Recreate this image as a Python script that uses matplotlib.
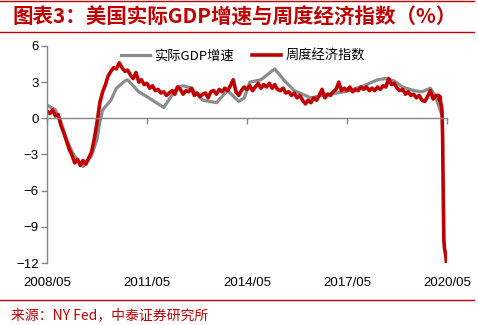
import matplotlib
matplotlib.use('Agg')
import matplotlib.pyplot as plt
from matplotlib.lines import Line2D
import pandas as pd

plt.rcParams['font.family'] = ['Liberation Sans', 'Noto Sans CJK SC', 'DejaVu Sans']
CJK = ['Noto Sans CJK SC', 'DejaVu Sans']

RED = '#C00000'
GRAY = '#8C8C8C'

title = '图表3：美国实际GDP增速与周度经济指数（%）'
source = '来源：NY Fed，中泰证券研究所'
gdp_label = '实际GDP增速'
wei_label = '周度经济指数'

gdp_dates = ['2008-05', '2008-08', '2008-10', '2008-12', '2009-02', '2009-04',
             '2009-06', '2009-09', '2009-11', '2009-12', '2010-01', '2010-04',
             '2010-06', '2010-09', '2010-10', '2011-02', '2011-05', '2011-07',
             '2011-11', '2012-04', '2012-06', '2012-09', '2013-01', '2013-06',
             '2013-10', '2014-02', '2014-04', '2014-06', '2014-10', '2015-03',
             '2015-07', '2015-10', '2016-04', '2016-10', '2017-04', '2017-07',
             '2017-11', '2018-04', '2018-07', '2018-10', '2019-01', '2019-05',
             '2019-08', '2019-11', '2020-01', '2020-03']
gdp_values = [1.1, 0.7, -0.3, -1.7, -2.8, -3.5,
              -4.0, -3.1, -1.7, -0.3, 0.7, 1.5,
              2.5, 3.1, 3.2, 2.2, 1.8, 1.5,
              0.9, 2.6, 2.7, 2.5, 1.5, 1.3,
              2.3, 1.4, 1.7, 3.0, 3.2, 4.1,
              3.0, 2.3, 1.7, 2.0, 2.2, 2.4,
              2.7, 3.2, 3.3, 3.1, 2.6, 2.3,
              2.2, 2.5, 1.7, 0.4]

# weekly economic index, monthly readings from 2008/05 to 2020/01
wei_monthly = [
    0.6, 0.4, 0.7, 0.2, 0.3, -0.6, -1.2, -1.9,                      # 2008
    -2.6, -3.1, -3.7, -3.4, -3.9, -3.5, -3.8, -3.3, -2.8, -1.7, -0.3, 1.3,  # to 2009/12
    2.2, 2.8, 3.5, 3.9, 4.2, 4.1, 4.6, 4.2, 3.9, 4.0, 3.6, 3.3,     # 2010
    3.8, 3.0, 3.2, 2.8, 2.9, 2.5, 2.7, 2.3, 2.4, 2.1, 2.2, 1.9,     # 2011
    2.1, 2.3, 2.0, 2.6, 2.4, 2.0, 2.3, 2.2, 2.5, 1.9, 2.1, 1.8,     # 2012
    2.0, 2.1, 1.7, 2.2, 2.3, 2.0, 2.4, 2.2, 2.5, 2.3, 2.7, 3.2,     # 2013
    2.2, 1.9, 2.3, 2.6, 2.4, 2.7, 2.3, 2.6, 2.9, 2.5, 2.8, 2.6,     # 2014
    2.9, 2.5, 2.8, 2.4, 2.3, 2.5, 2.1, 2.2, 1.9, 2.1, 1.7, 1.9,     # 2015
    1.5, 1.2, 1.5, 1.3, 1.7, 1.5, 1.9, 2.4, 1.7, 2.0, 1.9, 2.2,     # 2016
    2.4, 3.0, 2.3, 2.5, 2.3, 2.6, 2.2, 2.4, 2.3, 2.6, 2.4, 2.6,     # 2017
    2.3, 2.5, 2.3, 2.6, 2.4, 2.7, 2.6, 3.3, 2.8, 2.9, 2.5, 2.3,     # 2018
    2.4, 2.0, 2.2, 1.9, 2.0, 1.7, 1.9, 1.5, 1.4, 1.8, 2.3, 1.6,     # 2019
    1.9,                                                            # 2020/01
]
wei_weekly_dates = ['2020-02-01', '2020-02-08', '2020-02-15', '2020-02-22',
                    '2020-02-29', '2020-03-07', '2020-03-14', '2020-03-21',
                    '2020-03-28', '2020-04-04', '2020-04-11', '2020-04-18',
                    '2020-04-25']
wei_weekly = [1.9, 1.5, 1.8, 1.3, 1.1, 0.6, -1.5, -6.5,
              -10.2, -10.8, -11.1, -11.4, -12.0]

x_ticks = ['2008-05', '2011-05', '2014-05', '2017-05', '2020-05']
y_ticks = [6, 3, 0, -3, -6, -9, -12]

wei_dates = list(pd.date_range('2008-05-01', periods=len(wei_monthly), freq='MS')) + \
    list(pd.to_datetime(wei_weekly_dates))
wei_values = wei_monthly + wei_weekly

fig = plt.figure(figsize=(4.78, 3.25), dpi=100)
ax = fig.add_axes([47 / 478, 1 - 263 / 325, 400 / 478, 217 / 325])

ax.plot(pd.to_datetime(gdp_dates), gdp_values, color=GRAY, lw=2.3, label=gdp_label,
        solid_joinstyle='round')
ax.plot(wei_dates, wei_values, color=RED, lw=2.6, label=wei_label, solid_joinstyle='round')

ax.set_xlim(pd.Timestamp('2008-05-01'), pd.Timestamp('2020-05-01'))
ax.set_ylim(-12, 6)
ax.set_yticks(y_ticks)

tick_dates = pd.to_datetime(x_ticks)
ax.set_xticks(tick_dates)
ax.tick_params(axis='x', labelbottom=False, direction='out', length=4, width=1, color='#868686')
ax.tick_params(axis='y', direction='out', length=4, width=1, color='#868686',
               labelsize=9.5, pad=2)
for d in tick_dates:
    ax.text(d, -0.09, d.strftime('%Y/%m'), transform=ax.get_xaxis_transform(),
            ha='center', va='center', fontsize=9.5)

for s in ['top', 'right']:
    ax.spines[s].set_visible(False)
ax.spines['bottom'].set_position(('data', 0))
for s in ['left', 'bottom']:
    ax.spines[s].set_color('#868686')
    ax.spines[s].set_linewidth(1)

leg = ax.legend(loc='upper center', bbox_to_anchor=(0.49, 1.04), ncol=2, frameon=False,
                handlelength=2.2, handletextpad=0.3, columnspacing=1.4,
                prop={'family': CJK, 'size': 9.5})

fig.text(12 / 478, 1 - 17 / 325, title, color=RED, fontsize=14.8, fontweight='bold',
         style='italic', family=CJK, ha='left', va='center')
fig.add_artist(Line2D([0, 474 / 478], [1 - 1 / 325] * 2, color=RED, lw=1))
fig.add_artist(Line2D([0, 474 / 478], [1 - 32 / 325] * 2, color=RED, lw=1))
fig.add_artist(Line2D([0, 474 / 478], [1 - 300 / 325] * 2, color=RED, lw=1))
fig.text(11 / 478, 1 - 315 / 325, source, color=RED, fontsize=10, family=CJK,
         ha='left', va='center')

fig.savefig('out.png', dpi=100)
